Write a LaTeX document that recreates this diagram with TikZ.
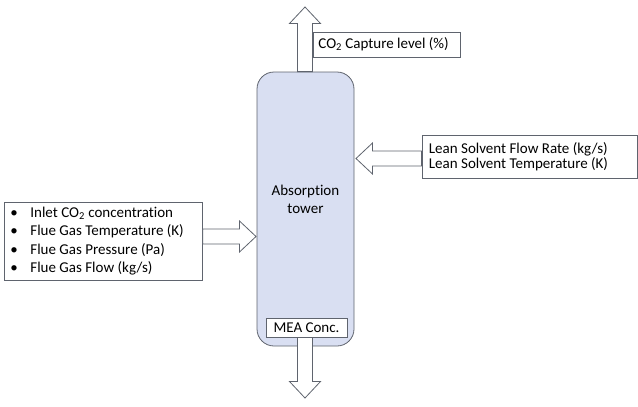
\documentclass[tikz,border=0pt]{standalone}
\usepackage{fontspec}
\setmainfont{Carlito}[Ligatures=NoCommon]
\usetikzlibrary{calc}

\definecolor{towerfill}{RGB}{217,223,242}
\definecolor{edgegray}{RGB}{95,100,110}

\tikzset{
  box/.style={draw=edgegray, line width=0.8pt, fill=white, inner xsep=6pt, inner ysep=2pt,
    font=\fontsize{15}{18.3}\selectfont},
  fatarrow/.style={draw=edgegray, line width=0.8pt, fill=white, to path={
    ($(\tikztostart)!7.5pt!90:(\tikztotarget)$)
    -- ($($(\tikztotarget)!16.5pt!(\tikztostart)$)!7.5pt!-90:(\tikztostart)$)
    -- ($($(\tikztotarget)!16.5pt!(\tikztostart)$)!15.5pt!-90:(\tikztostart)$)
    -- (\tikztotarget)
    -- ($($(\tikztotarget)!16.5pt!(\tikztostart)$)!15.5pt!90:(\tikztostart)$)
    -- ($($(\tikztotarget)!16.5pt!(\tikztostart)$)!7.5pt!90:(\tikztostart)$)
    -- ($(\tikztostart)!7.5pt!-90:(\tikztotarget)$) -- cycle}}
}

\begin{document}
\begin{tikzpicture}[x=1pt,y=-1pt]
\useasboundingbox (0,0) rectangle (638,407);

% column
\node (tower) at (305.5,209) [draw=edgegray, line width=0.8pt, fill=towerfill, rounded corners=17pt,
  minimum width=97pt, minimum height=274pt] {};
\node (towertext) at (305.5,199) [align=center, font=\fontsize{15}{18.3}\selectfont] {Absorption\\tower};

% labels
\node (capbox) at (313,44.5) [box, anchor=west, minimum height=25pt, inner xsep=5pt]
  {\makebox[137pt][l]{CO\textsubscript{2} Capture level (\%)}};
\node (meabox) at (306.5,327.5) [box, minimum width=81pt, minimum height=19pt, inner xsep=2pt] {MEA Conc.};
\node (gasbox) at (4,241) [box, anchor=west, minimum height=78pt, text width=186pt, align=flush left,
  inner xsep=6pt]
  {\makebox[20pt][l]{\textbullet}Inlet CO\textsubscript{2} concentration\\
   \makebox[20pt][l]{\textbullet}Flue Gas Temperature (K)\\
   \makebox[20pt][l]{\textbullet}Flue Gas Pressure (Pa)\\
   \makebox[20pt][l]{\textbullet}Flue Gas Flow (kg/s)};
\node (leanbox) at (421.5,156.5) [box, anchor=west, minimum height=43pt, text width=201pt, align=flush left,
  inner xsep=7pt, font=\fontsize{15}{15.5}\selectfont]
  {Lean Solvent Flow Rate (kg/s)\\Lean Solvent Temperature (K)};

% arrow ends
\coordinate (topend) at (305,7);
\coordinate (bottomend) at (305,398);
\coordinate (gastip) at (256,236.5);
\coordinate (leantip) at (356,158.5);

\draw [fatarrow] (tower.north -| topend) to (topend);
\draw [fatarrow] (meabox.south -| bottomend) to (bottomend);
\draw [fatarrow] (gasbox.east |- gastip) to (gastip);
\draw [fatarrow] (leanbox.west |- leantip) to (leantip);
\end{tikzpicture}
\end{document}
